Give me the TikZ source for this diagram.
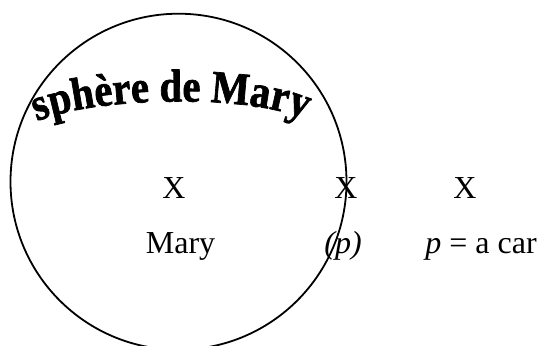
\documentclass[tikz,border=0pt]{standalone}
\usepackage{fontspec}
\setmainfont{Liberation Serif}
\newfontfamily\archfamily{Liberation Serif}[FakeStretch=0.88, FakeBold=1.5]
\usetikzlibrary{decorations.text}

\newcommand{\archfont}{\archfamily\bfseries\fontsize{23}{27}\selectfont}

\begin{document}
\begin{tikzpicture}[x=0.5pt, y=-0.5pt, font=\fontsize{16}{19}\selectfont]
\tikzstyle{lbl}=[inner sep=0pt, anchor=base]
\useasboundingbox (0,0) rectangle (541,345);
\clip (0,0) rectangle (541,345);
\draw[line width=0.9pt] (178.5,181.7) circle[radius=168];
\path[decorate, decoration={text along path, text align=center, text={|\archfont|sphère de Mary}}]
  (30,125) .. controls (80,96) and (260,92) .. (312,123);
\node[lbl] (xmary) at (174,198) {X};
\node[lbl] (xp) at (346,198) {X};
\node[lbl] (xcar) at (465,198) {X};
\node[lbl] (mary) at (180.5,253) {Mary};
\node[lbl] (plabel) at (343,253) {\textit{(p)}};
\node[lbl, anchor=base west] (pcar) at (425,253) {\textit{p} = a car};
\end{tikzpicture}
\end{document}
